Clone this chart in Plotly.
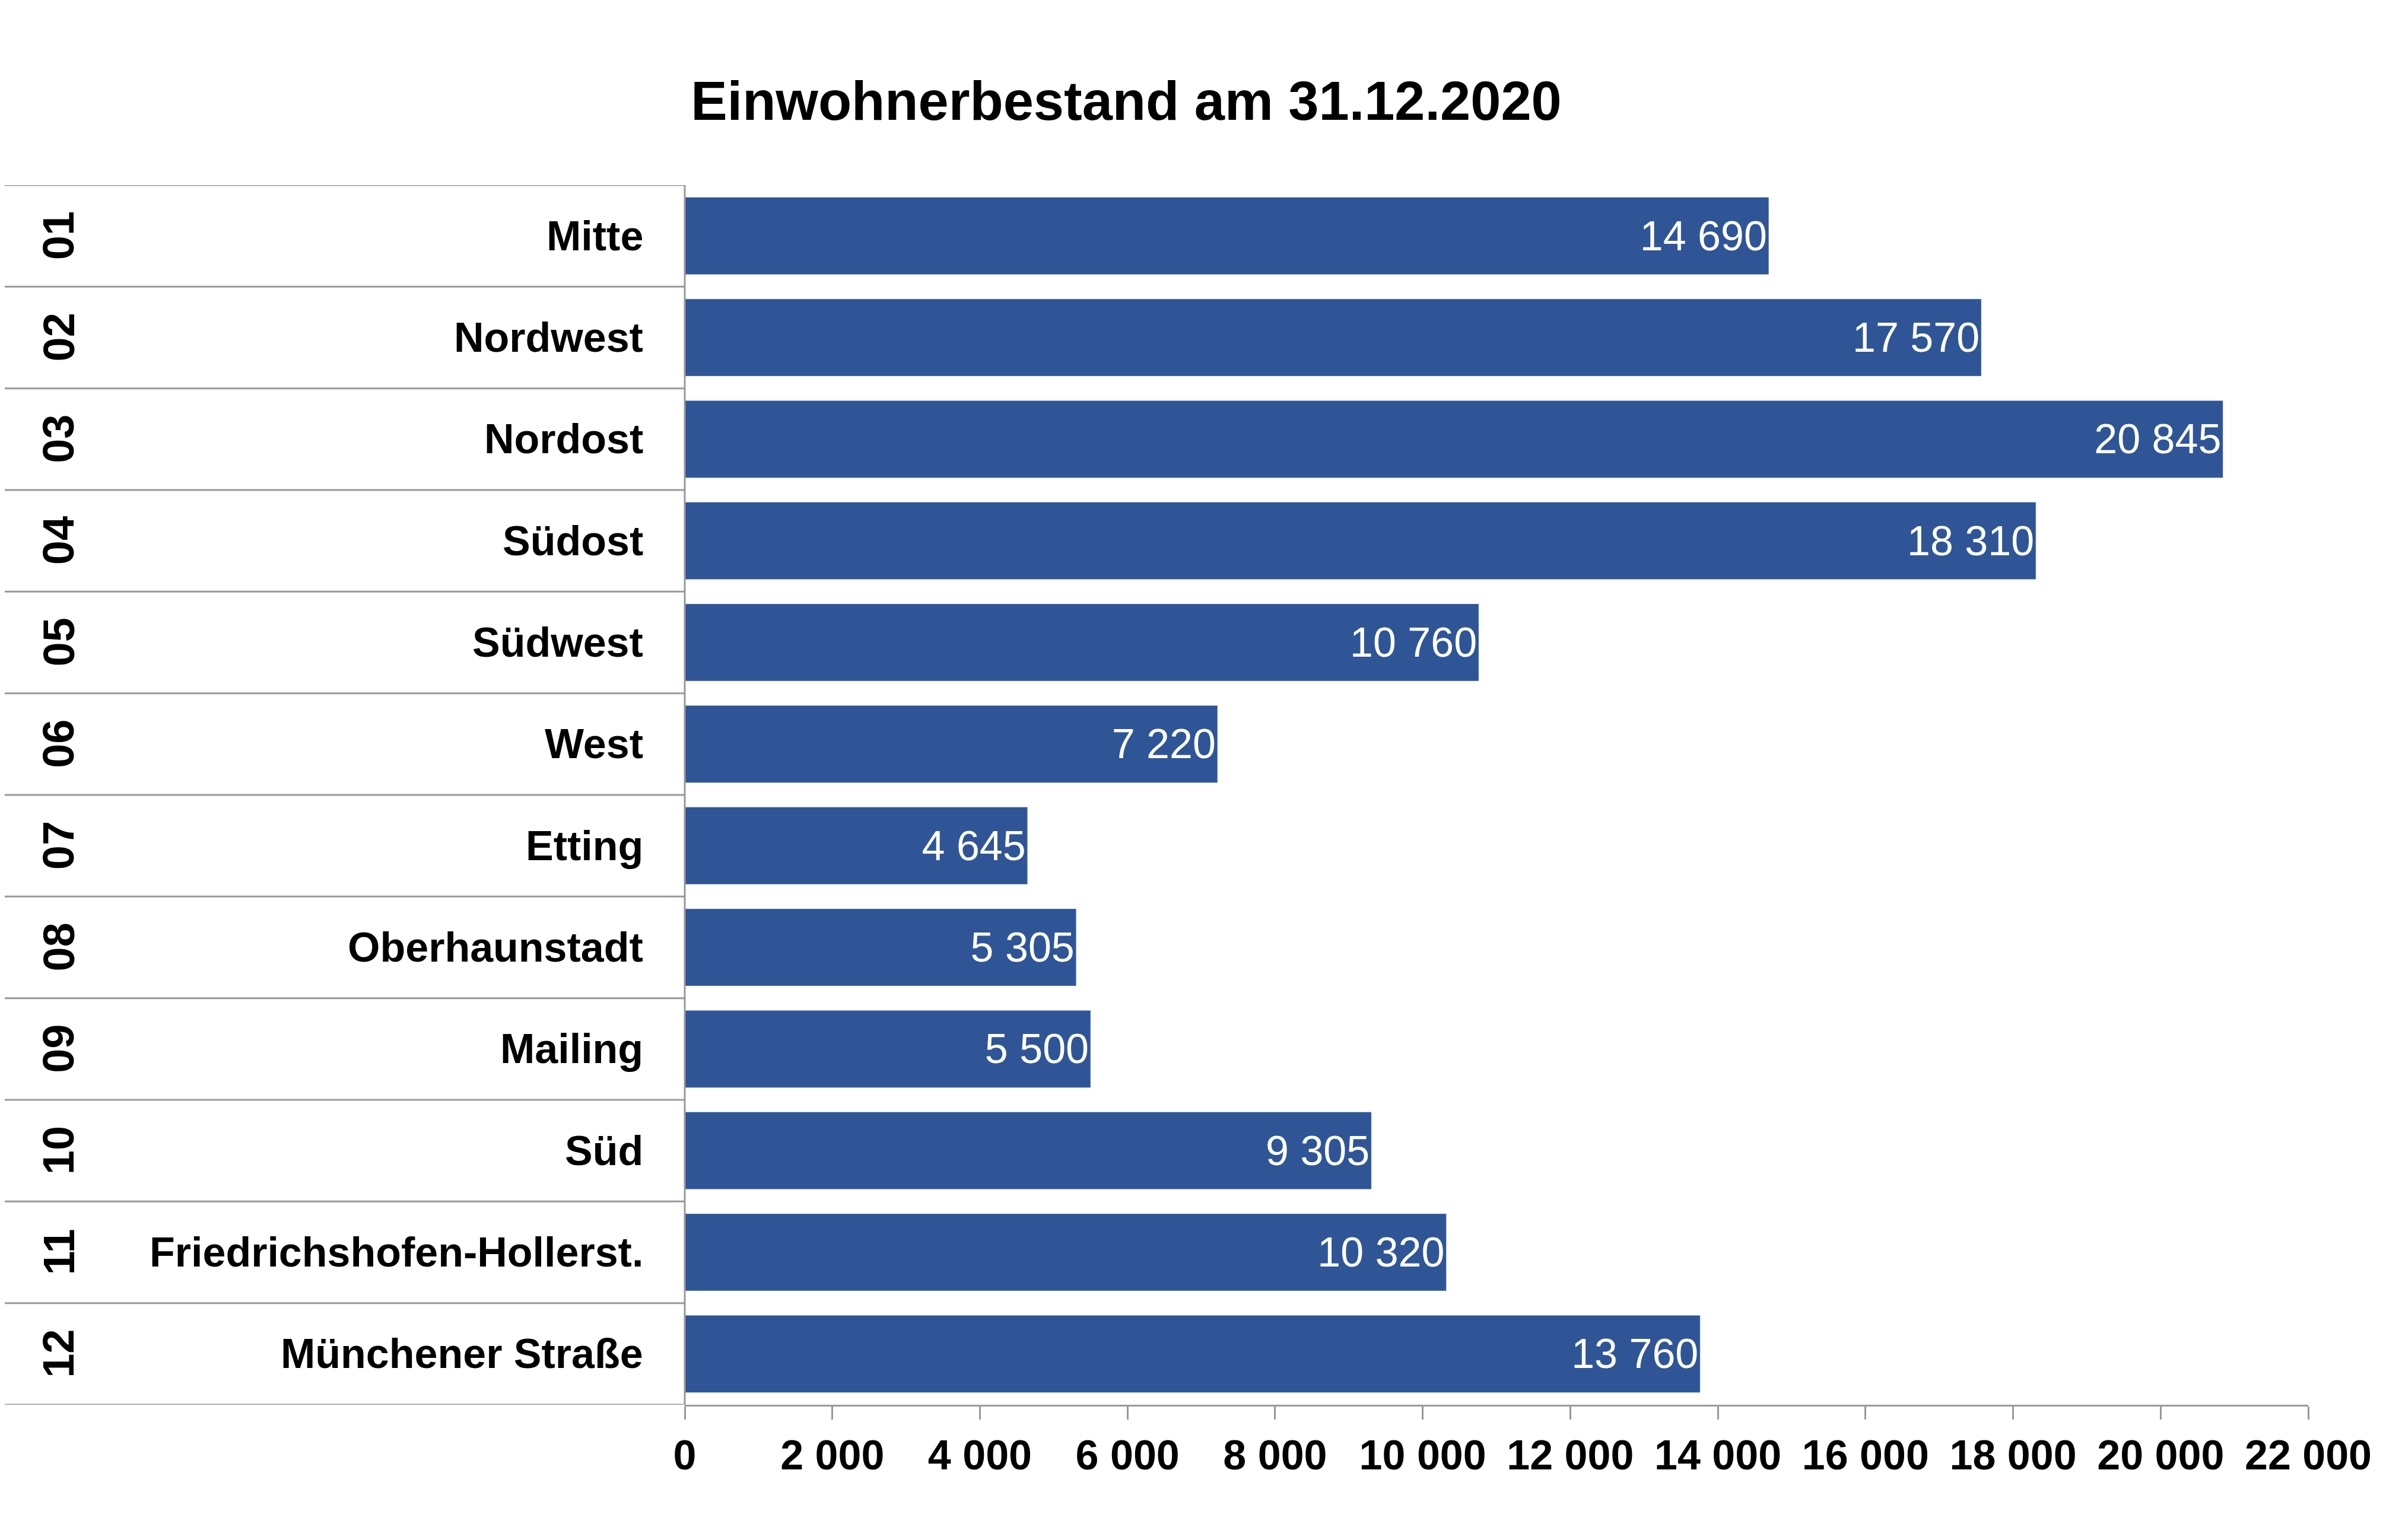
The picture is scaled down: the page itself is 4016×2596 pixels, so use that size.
import plotly.graph_objects as go

codes = ['01', '02', '03', '04', '05', '06', '07', '08', '09', '10', '11', '12']
districts = ['Mitte', 'Nordwest', 'Nordost', 'Südost', 'Südwest', 'West', 'Etting',
             'Oberhaunstadt', 'Mailing', 'Süd', 'Friedrichshofen-Hollerst.', 'Münchener Straße']
residents = [14690, 17570, 20845, 18310, 10760, 7220, 4645, 5305, 5500, 9305, 10320, 13760]
tick_vals = list(range(0, 22001, 2000))
tick_text = ['{:,}'.format(v).replace(',', ' ') for v in tick_vals]

W, H = 4016, 2596
L, R, T, B = 1146, 134, 304, 236
pw = W - L - R

fig = go.Figure()
fig.add_trace(go.Bar(
    x=residents, y=list(range(len(districts))), orientation='h',
    marker_color='#2f5597', width=0.76,
    text=['{:,}'.format(v).replace(',', ' ') for v in residents],
    textposition='inside', insidetextanchor='end',
    textfont=dict(color='white', size=70, family='Liberation Sans'),
    cliponaxis=False,
))

font = dict(family='Liberation Sans', size=70, color='black')
for i, (c, d) in enumerate(zip(codes, districts)):
    fig.add_annotation(x=-0.025, xref='paper', y=i, yref='y', text='<b>%s</b>' % d,
                       showarrow=False, xanchor='right', font=font)
    fig.add_annotation(x=(47 - L) / pw, xref='paper', y=i, yref='y', text='<b>%s</b>' % c,
                       showarrow=False, textangle=-90, font=dict(font, size=74))
for k in range(len(districts) + 1):
    fig.add_shape(type='line', xref='paper', yref='y', x0=-L / pw, x1=0,
                  y0=k - 0.5, y1=k - 0.5, line=dict(color='#999999', width=3))
fig.add_shape(type='line', xref='paper', yref='paper', x0=0, x1=0, y0=0, y1=1,
              line=dict(color='#999999', width=3))

fig.update_layout(
    width=W, height=H, margin=dict(l=L, r=R, t=T, b=B),
    plot_bgcolor='white', paper_bgcolor='white', showlegend=False,
    title=dict(text='<b>Einwohnerbestand am 31.12.2020</b>', x=(L + 1890 - L) / W, xanchor='center',
               y=1 - 162 / H, yanchor='middle', font=dict(family='Liberation Sans', size=92, color='black')),
    uniformtext=dict(mode='show', minsize=10),
)
fig.update_xaxes(range=[0, 22000], tickvals=tick_vals, ticktext=['<b>%s</b>' % t for t in tick_text],
                 showline=True, linecolor='#999999', linewidth=3, ticks='outside', tickcolor='#999999',
                 ticklen=22, tickwidth=3, showgrid=False, zeroline=False, tickfont=font)
fig.update_yaxes(range=[len(districts) - 0.5, -0.5], showticklabels=False, showgrid=False,
                 zeroline=False)
fig.write_html('out.html')
